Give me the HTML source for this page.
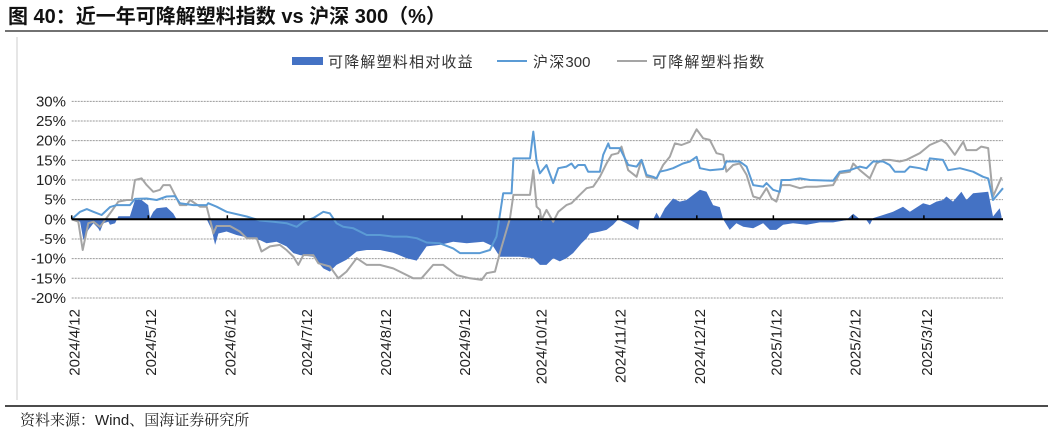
<!DOCTYPE html>
<html><head><meta charset="utf-8">
<style>
html,body{margin:0;padding:0;background:#fff;}
svg{display:block;font-family:"Liberation Sans","Noto Sans CJK SC",sans-serif;}
</style></head>
<body>
<svg id="chart" width="1053" height="434" viewBox="0 0 1053 434" xmlns="http://www.w3.org/2000/svg">
<text x="8" y="23" font-size="20" font-weight="bold" fill="#111">图 40：近一年可降解塑料指数 vs 沪深 300（%）</text>
<line x1="5" y1="31" x2="1048" y2="31" stroke="#444" stroke-width="1.5"/>
<line x1="17" y1="37" x2="17" y2="400" stroke="#ccc" stroke-width="1"/>
<g id="legend">
  <rect x="292" y="57" width="31" height="8" fill="#4472c4"/>
  <text x="328" y="67" font-size="15" letter-spacing="1.2" fill="#333">可降解塑料相对收益</text>
  <line x1="497" y1="61" x2="527" y2="61" stroke="#5b9bd5" stroke-width="2"/>
  <text x="533" y="67" font-size="15" fill="#333"><tspan letter-spacing="1.2">沪深</tspan>300</text>
  <line x1="617" y1="61" x2="647" y2="61" stroke="#a5a5a5" stroke-width="2"/>
  <text x="652" y="67" font-size="15" letter-spacing="1.2" fill="#333">可降解塑料指数</text>
</g>
<g id="grid"></g>
<g id="marks"></g>
<g id="axes"></g>
<line x1="5" y1="406" x2="1048" y2="406" stroke="#111" stroke-width="1.5"/>
<text x="20" y="425" font-size="15" fill="#222" font-family="'Noto Serif CJK SC','Liberation Sans',serif">资料来源：<tspan font-family="'Liberation Sans',sans-serif">Wind</tspan>、国海证券研究所</text>
</svg>
<script>
// Data (day offset from 2024/4/12, value in %)
const tickDays = [0,30,61,91,122,153,183,214,245,275,306,334];
const tickLabels = ["2024/4/12","2024/5/12","2024/6/12","2024/7/12","2024/8/12","2024/9/12","2024/10/12","2024/11/12","2024/12/12","2025/1/12","2025/2/12","2025/3/12"];
const yTicks = [30,25,20,15,10,5,0,-5,-10,-15,-20];
const hs300 = [[0,0],[3.3,1.9],[5.9,2.6],[8.5,1.9],[11.7,1.1],[15,3.1],[17.6,3.6],[22.8,3.6],[24.8,5.2],[29.4,5.3],[33.3,4.9],[37.2,5.8],[40.5,5.9],[42.4,4.1],[47.7,3.6],[52.9,3.6],[53.5,4.1],[56.8,3.2],[60.7,1.9],[68.6,0.7],[73.8,-0.3],[79,-0.6],[84.2,-1],[88.2,-1.9],[90.8,-0.6],[94.7,0.3],[98.6,1.9],[101.2,1.5],[103.8,-1],[106.4,-1.9],[110.4,-2.3],[115.6,-4],[120.8,-4],[126,-4.4],[131.3,-4.4],[135.2,-4.8],[139.1,-5.9],[144.3,-6.1],[149.5,-7.4],[152.2,-8.6],[160,-8.6],[163.9,-7.8],[166.5,-4.4],[169.1,6.6],[172.4,6.6],[173.1,15.5],[179.6,15.5],[180.9,22.3],[182.2,14.7],[183.5,11.7],[186.1,13.8],[188.7,9.2],[190.7,13],[193.9,13.4],[195.9,14.2],[197.2,13],[198.5,13.8],[201.1,13.8],[202.4,12.1],[207,12.1],[208.3,16.4],[210.3,19.3],[210.9,18.1],[214.8,18.1],[218.1,13.8],[221.4,13.4],[223.3,15.1],[225.3,11.3],[227.9,10.8],[229.2,10.4],[230.5,12.1],[233.1,12.5],[235.7,13],[239.6,14.2],[242.3,14.7],[244.9,15.9],[246.2,13],[250.1,12.5],[255.3,12.8],[256.6,14.7],[261.8,14.7],[264.5,13.4],[267.1,8.7],[271,8.3],[272.3,9.2],[274.9,7.5],[277.5,7],[278.2,10],[281.4,10],[285.4,10.4],[289.3,10],[298.4,9.8],[301,12.1],[305,12.5],[308.9,13.4],[311.5,13],[314.1,14.7],[318,14.7],[320.6,13.8],[322.6,12.1],[326.5,12.1],[328.5,13.4],[332.4,13],[335,12.5],[336.3,15.5],[341.5,15.1],[343.5,12.5],[348.1,13],[353.3,12.1],[357.2,10.8],[359.2,10.4],[361.1,4.9],[365,7.9]];
const plasticIndex = [[0,0],[2.6,-0.6],[4.3,-7.8],[6.5,-1],[8.5,-0.6],[11.1,-1.9],[15,1.5],[18.3,4.5],[21.5,4.9],[23.5,4.9],[24.8,10],[27.4,10.4],[29.4,8.7],[32,7],[34.6,7.5],[35.9,8.7],[38.5,8.7],[40.5,6.2],[42.4,3.6],[45,3.6],[46.4,4.9],[50.3,3.2],[52.9,3.2],[54.9,-1.9],[55.5,-3.6],[56.8,-1.7],[62,-1.7],[65.9,-3.1],[68.6,-4.8],[72.5,-4.8],[74.4,-8.2],[77.7,-6.9],[81.6,-6.5],[84.2,-7.8],[86.9,-9.5],[88.8,-11.6],[90.8,-9.1],[94.7,-9.1],[96.7,-11.2],[101.2,-12],[104.5,-15],[107.7,-13.3],[111.7,-9.9],[115.6,-11.6],[120.8,-11.6],[126,-12.5],[133.9,-15],[137.1,-15],[141.7,-11.6],[145.6,-11.6],[150.9,-14.2],[156.1,-15],[160.7,-15.4],[162.6,-13.7],[165.9,-13.3],[167.8,-8.6],[171.8,0.3],[173.1,6.2],[179.6,6.2],[180.9,12.5],[182.2,3.2],[183.5,2.4],[184.1,-0.2],[186.1,2.4],[188.7,-0.6],[190.7,1.9],[193.9,3.6],[195.9,4.1],[199.1,6.2],[201.8,7.9],[204.4,8.3],[207,10.8],[209.6,14.2],[211.6,16.4],[214.2,16.8],[215.5,18.5],[218.1,12.5],[221.4,10.8],[223.3,15.1],[225.3,10.8],[229.2,10.4],[231.8,13.8],[234.4,15.9],[236.4,19.3],[239,18.9],[242.3,19.7],[244.9,22.9],[247.5,20.6],[250.1,20.2],[252.7,16.8],[255.3,16.4],[256.6,12.1],[259.2,13.8],[261.8,14.2],[264.5,11.3],[267.1,5.8],[269.7,5.3],[272.3,7.9],[274.3,5.3],[276.2,4.5],[278.2,8.7],[281.4,8.7],[285.4,7.9],[288,8.3],[291.9,8.3],[298.4,8.7],[301,11.7],[305,12.1],[306.3,14.2],[308.9,12.5],[312.8,10.4],[315.4,14.2],[318,15.1],[320.6,15.1],[324.5,14.7],[327.1,15.1],[332.4,16.8],[336.3,18.9],[340.9,20.2],[342.8,19.3],[346.1,16.4],[349.4,19.7],[350.7,17.6],[354.6,17.6],[356.5,18.5],[359.2,18.1],[361.1,5.8],[364.4,10.7]];
const excessReturn = [[0,0],[3.3,-0.6],[4.6,-5.3],[6.5,-2.7],[8.5,-1],[10.4,-2.3],[11.1,-3.1],[12.4,-1],[14.4,-0.6],[15,-1.4],[17,-1],[18.3,0.8],[22.8,0.8],[24.8,4.9],[27.4,4.9],[30,3.6],[30.7,0.3],[32,1.9],[33.3,2.8],[37.2,3.1],[39.8,1.5],[41.1,0],[52.9,0],[54.9,-2.7],[56.2,-6.5],[57.5,-3.6],[60.7,-3.1],[64.6,-4],[67.3,-4.4],[69.9,-4.8],[73.8,-5.3],[76.4,-6.1],[80.3,-5.7],[84.2,-6.9],[86.9,-8.6],[89.5,-9.1],[94.7,-9.5],[98.6,-12.5],[101.2,-13.3],[103.8,-11.6],[107.7,-10.3],[111.7,-8.2],[115.6,-7.8],[120.8,-7.8],[126,-8.5],[131.3,-9.9],[135.2,-10.5],[139.1,-6.9],[144.3,-6.5],[149.5,-5.7],[154.8,-6.1],[161.3,-5.7],[165.2,-6.9],[167.8,-9.5],[170.4,-9.5],[175.7,-9.5],[180.9,-9.9],[183.5,-11.6],[186.1,-11.6],[188.7,-9.9],[191.3,-10.7],[193.9,-9.9],[196.5,-8.6],[199.8,-6.1],[201.8,-4.8],[203.1,-3.6],[207,-3.1],[209.6,-2.7],[212.2,-1.4],[214.2,0],[217.4,-1],[220,-1.9],[222,-2.7],[222.7,0],[227.9,0],[229.2,1.7],[230.5,0.3],[232.5,2.8],[235.7,5.3],[238.3,4.5],[241,4.9],[243.6,6.2],[246.2,7.5],[248.8,7],[251.4,3.6],[254,3.1],[255.3,0],[257.9,-2.7],[260.5,-1],[263.2,-1.9],[267.1,-2.3],[271,-1],[273.6,-2.7],[276.2,-2.7],[278.8,-1.4],[282.7,-1],[288,-1.4],[293.2,-0.8],[298.4,-0.8],[303.6,-0.2],[306.3,1.4],[308.9,0],[311.5,-0.2],[312.8,-1.4],[314.1,0.3],[318,1.1],[321.9,1.9],[325.8,3.2],[328.5,1.9],[333.7,4.1],[336.3,3.6],[338.9,4.5],[341.5,4.9],[342.8,5.8],[345.4,4.5],[348.7,7],[350.7,4.9],[353.3,6.6],[359.2,7],[361.1,0.7],[363.7,2.8],[364.4,0.7]];

const NS = "http://www.w3.org/2000/svg";
const X0 = 71.7, X1 = 1003, D0 = 0, D1 = 365;
const Y0 = 219.3, PX_PER_PCT = 3.932;
function xScale(d){ return X0 + (d - D0) * (X1 - X0) / (D1 - D0); }
function yScale(v){ return Y0 - v * PX_PER_PCT; }
function mk(tag, attrs, parent){ const e = document.createElementNS(NS, tag); for (const k in attrs) e.setAttribute(k, attrs[k]); parent.appendChild(e); return e; }

const grid = document.getElementById('grid');
const marks = document.getElementById('marks');
const axes = document.getElementById('axes');

yTicks.forEach(v => {
  const y = yScale(v);
  if (v !== 0) {
    const gl = mk('line', {x1: X0, x2: X1, y1: y, y2: y, stroke: '#999', 'stroke-width': 1, 'stroke-dasharray': '2,1'}, grid);
    
    
  }
  const t = mk('text', {x: 66, y: y + 5, 'font-size': 15, 'text-anchor': 'end', fill: '#222'}, axes);
  t.textContent = v + '%';
  
  
});

let d = 'M' + xScale(excessReturn[0][0]) + ',' + yScale(0);
excessReturn.forEach(p => { d += ' L' + xScale(p[0]).toFixed(1) + ',' + yScale(p[1]).toFixed(1); });
d += ' L' + xScale(excessReturn[excessReturn.length-1][0]).toFixed(1) + ',' + yScale(0) + ' Z';
const area = mk('path', {d: d, fill: '#4472c4', stroke: 'none'}, marks);



function line(data, color, name){
  const pts = data.map(p => xScale(p[0]).toFixed(1) + ',' + yScale(p[1]).toFixed(1)).join(' ');
  const pl = mk('polyline', {points: pts, fill: 'none', stroke: color, 'stroke-width': 2, 'stroke-linejoin': 'round'}, marks);
  
  
}
line(plasticIndex, '#a5a5a5', 'plastic-index-line');
line(hs300, '#5b9bd5', 'hs300-line');

const zl = mk('line', {x1: X0, x2: X1, y1: Y0, y2: Y0, stroke: '#000', 'stroke-width': 2}, axes);



tickDays.forEach((td, i) => {
  const x = xScale(td);
  const tk = mk('line', {x1: x, x2: x, y1: Y0 - 4, y2: Y0, stroke: '#000', 'stroke-width': 1.5}, axes);
  
  
  const t = mk('text', {x: 0, y: 0, 'font-size': 15, 'text-anchor': 'end', fill: '#222', transform: 'translate(' + (x + 8) + ',309) rotate(-90)'}, axes);
  t.textContent = tickLabels[i];
  
  
});
</script>
</body></html>
